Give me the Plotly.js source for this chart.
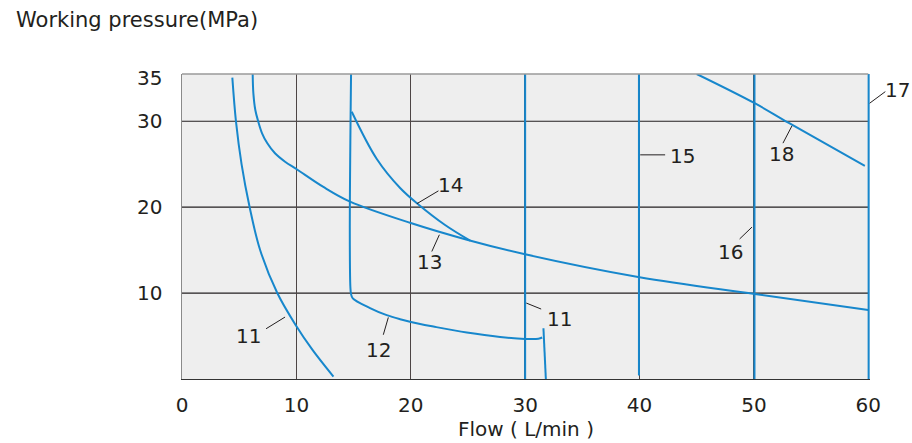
<!DOCTYPE html>
<html><head><meta charset="utf-8">
<script src="https://cdn.plot.ly/plotly-3.0.1.min.js"></script>
<style>html,body{margin:0;padding:0;background:#fff}#chart{width:912px;height:443px}</style>
</head><body><div id="chart"></div>
<script>
// axis ticks
const xTicks = [0, 10, 20, 30, 40, 50, 60];
const yTicks = [10, 20, 30, 35];
const yGridLines = [10, 20, 30];
const xRange = [0, 60.15];
const yRange = [0, 35.5];

// curve "11" (left)
const flow11a = [4.40, 4.72, 5.21, 5.91, 6.83, 8.33, 9.99, 11.41, 13.24];
const p11a    = [35.07, 29.95, 24.98, 20.02, 15.01, 10.01, 6.17, 3.38, 0.27];
// curve "13"
const flow13 = [6.18, 6.24, 6.41, 6.67, 7.00, 7.46, 8.13, 9.01, 10.03, 12.36, 14.69, 20.0, 24.99, 30.0, 40.0, 50.07, 60.0];
const p13    = [35.5, 33.25, 31.31, 29.95, 28.60, 27.43, 26.27, 25.29, 24.41, 22.35, 20.64, 18.15, 16.18, 14.51, 11.84, 9.89, 8.03];
// curve "14"
const flow14 = [14.84, 17.03, 19.07, 20.67, 23.0, 25.19];
const p14    = [31.11, 25.61, 22.23, 20.31, 17.92, 16.1];
// curve "12" (vertical near 15 then bend)
const flow12 = [14.78, 14.67, 14.72, 14.78, 14.93, 16.44, 17.90, 19.07, 20.82, 21.98, 24.90, 27.81, 30.0, 31.16, 31.49];
const p12    = [35.5, 17.34, 10.74, 9.89, 9.39, 8.26, 7.43, 6.96, 6.40, 6.10, 5.41, 4.89, 4.66, 4.68, 4.83];
const flow12end = [31.6, 31.81];
const p12end    = [5.9, 0];
// curve "18"
const flow18 = [45.0, 50.07, 53.05, 59.7];
const p18    = [35.5, 32.1, 29.8, 24.8];
// vertical limits "11", "15", "16", "17"
const verticalFlows = [30.0, 39.95, 50.05, 60.03];
const verticalTop = [35.5, 35.5, 35.5, 35.5];
const verticalBottom = [0, 0.4, 0, 0];

// curve labels
const labelTexts = ["11", "12", "13", "14", "11", "15", "16", "17", "18"];

const BLUE = '#1787cc';
const INK = '#231f20';
const FONT = 'DejaVu Sans';

const traces = [];
function curve(x, y, smooth) {
  traces.push({type: 'scatter', mode: 'lines', x: x, y: y,
    line: {color: BLUE, width: 2, shape: smooth ? 'spline' : 'linear', smoothing: 1},
    hoverinfo: 'skip', showlegend: false});
}
curve(flow11a, p11a, true);
curve(flow13, p13, true);
curve(flow14, p14, true);
curve(flow12, p12, true);
curve(flow12end, p12end, false);
curve(flow18, p18, true);
verticalFlows.forEach((v, i) => curve([v, v], [verticalBottom[i], verticalTop[i]], false));

// label placement (text centre) and leader lines [x0,y0,x1,y1] in data units
const labelPos = [
  [5.84, 5.06], [17.17, 3.41], [21.63, 13.61], [23.5, 22.6], [33.0, 7.03],
  [43.76, 25.97], [47.93, 14.84], [62.58, 33.62], [52.45, 26.17]
];
const leaders = [
  [7.35, 5.85, 9.01, 7.21], [17.6, 5.15, 18.04, 7.17], [21.84, 14.84, 22.5, 16.79],
  [22.42, 21.9, 20.53, 20.4], [31.4, 8.14, 30.1, 8.84], [40.06, 26.09, 42.24, 26.09],
  [48.75, 16.3, 49.83, 17.68], [60.12, 32.1, 61.49, 33.45], [52.54, 27.45, 53.33, 29.47]
];

const shapes = [];
yGridLines.forEach(v => shapes.push({type: 'line', xref: 'x', yref: 'y', x0: 0, x1: 60, y0: v, y1: v,
  line: {color: INK, width: 1.2}, layer: 'below'}));
// top border
shapes.push({type: 'line', xref: 'paper', yref: 'paper', x0: 0, x1: 60 / xRange[1], y0: 1, y1: 1,
  line: {color: '#9a9a9a', width: 1.5}});
leaders.forEach((l) => {
  const outside = l[2] > 60 || l[0] > 60;
  if (outside) {
    shapes.push({type: 'line', xref: 'paper', yref: 'paper',
      x0: l[0] / xRange[1], y0: l[1] / yRange[1], x1: l[2] / xRange[1], y1: l[3] / yRange[1],
      line: {color: INK, width: 1}});
  } else {
    shapes.push({type: 'line', xref: 'x', yref: 'y', x0: l[0], y0: l[1], x1: l[2], y1: l[3],
      line: {color: INK, width: 1}});
  }
});

const annotations = labelTexts.map((t, i) => {
  const px = labelPos[i][0], py = labelPos[i][1];
  const outside = px > xRange[1];
  return {
    text: t,
    x: outside ? px / xRange[1] : px, y: outside ? py / yRange[1] : py,
    xref: outside ? 'paper' : 'x', yref: outside ? 'paper' : 'y',
    showarrow: false, xanchor: 'center', yanchor: 'middle',
    font: {family: FONT, size: 20, color: INK}
  };
});

const layout = {
  width: 912, height: 443,
  margin: {l: 182, r: 42, t: 74, b: 64},
  paper_bgcolor: '#ffffff', plot_bgcolor: '#eeeeee',
  title: {text: 'Working pressure(MPa)', xref: 'container', yref: 'container',
    x: 16 / 912, xanchor: 'left', y: 1 - 20 / 443, yanchor: 'middle',
    font: {family: FONT, size: 21, color: INK}},
  xaxis: {range: xRange, tickvals: xTicks, ticks: '', showgrid: true, gridcolor: '#4d4545', gridwidth: 1.3,
    zeroline: false, showline: true, linecolor: '#333333', linewidth: 1.3,
    tickfont: {family: FONT, size: 20, color: INK}, ticklabelstandoff: 8,
    title: {text: 'Flow ( L/min )', font: {family: FONT, size: 20, color: INK}, standoff: 4}},
  yaxis: {range: yRange, tickvals: yTicks, ticks: '', showgrid: false, zeroline: false,
    showline: true, linecolor: '#8a8a8a', linewidth: 1.5,
    tickfont: {family: FONT, size: 20, color: INK}, ticklabelstandoff: 14},
  shapes: shapes, annotations: annotations, showlegend: false
};

Plotly.newPlot('chart', traces, layout, {staticPlot: true, displayModeBar: false});
</script></body></html>
